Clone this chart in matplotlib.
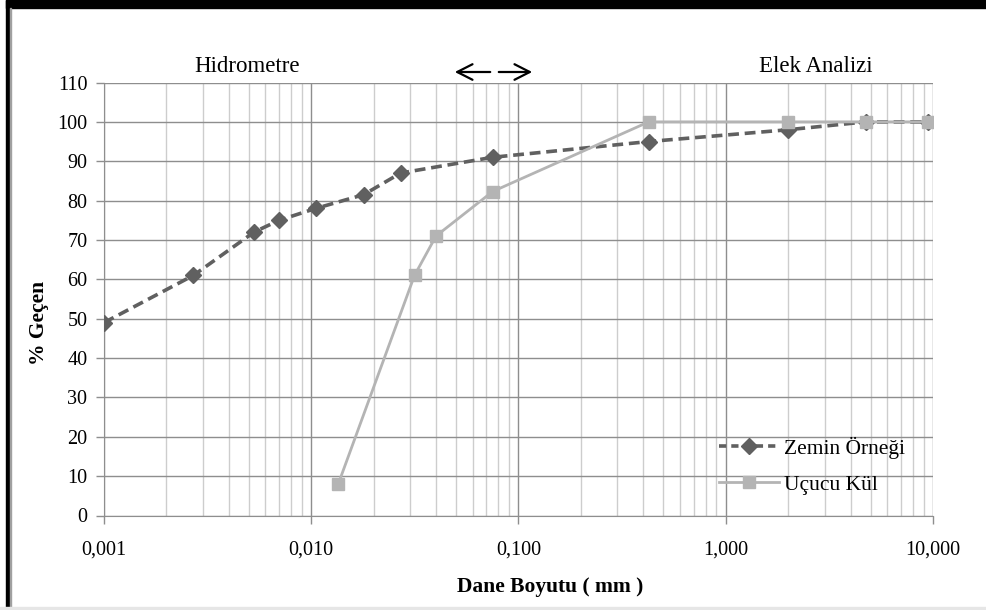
import numpy as np
import matplotlib.pyplot as plt
from matplotlib.ticker import FixedLocator, LogLocator, FuncFormatter, NullFormatter
from matplotlib.lines import Line2D
from matplotlib.patches import Rectangle

plt.rcParams['font.family'] = ['Liberation Serif', 'DejaVu Serif']

# grain size (mm) and percent passing
zemin_d = [0.001, 0.0027, 0.0053, 0.007, 0.0105, 0.0179, 0.027, 0.075, 0.425, 2.0, 4.75, 9.5]
zemin_p = [49, 61, 72, 75, 78, 81.5, 87, 91, 95, 98, 100, 100]

kul_d = [0.0135, 0.0315, 0.040, 0.075, 0.425, 2.0, 4.75, 9.5]
kul_p = [8, 61, 71, 82.3, 100, 100, 100, 100]

x_ticks = [0.001, 0.01, 0.1, 1, 10]
x_labels = ['0,001', '0,010', '0,100', '1,000', '10,000']
y_ticks = list(range(0, 111, 10))

dark = '#606060'
light = '#b4b4b4'
gridc = '#8e8e8e'

W, H = 987, 610
fig = plt.figure(figsize=(W / 100, H / 100), dpi=100)
ax = fig.add_axes([104 / W, 1 - 515.5 / H, 829 / W, 433 / H])

dash = (0, (3, 1.6))
ax.plot(zemin_d, zemin_p, color=dark, lw=2.6, ls=dash,
        marker='D', ms=8.5, mfc=dark, mec=dark, zorder=3)
ax.plot(kul_d, kul_p, color=light, lw=2.0, ls='-',
        marker='s', ms=8, mfc=light, mec=light, zorder=4)

ax.set_xscale('log')
ax.set_xlim(0.001, 10)
ax.set_ylim(0, 110)
ax.xaxis.set_major_locator(FixedLocator(x_ticks))
ax.xaxis.set_major_formatter(FuncFormatter(lambda v, p: x_labels[x_ticks.index(v)] if v in x_ticks else ''))
ax.xaxis.set_minor_locator(LogLocator(base=10, subs=np.arange(2, 10), numticks=20))
ax.xaxis.set_minor_formatter(NullFormatter())
ax.set_yticks(y_ticks)

ax.grid(True, which='major', axis='y', color=gridc, lw=1.0)
ax.grid(True, which='major', axis='x', color=gridc, lw=1.0)
ax.grid(True, which='minor', axis='x', color='#cdcdcd', lw=1.0)
ax.set_axisbelow(True)

for s in ['top', 'right']:
    ax.spines[s].set_visible(False)
for s in ['left', 'bottom']:
    ax.spines[s].set_color(gridc)
ax.tick_params(axis='both', which='major', labelsize=14.5, color=gridc, length=6, width=1.0)
ax.tick_params(axis='x', which='minor', length=0)
ax.tick_params(axis='x', which='major', pad=12)
ax.tick_params(axis='y', which='major', pad=6)

ax.set_xlabel('Dane Boyutu ( mm )', fontsize=15.5, fontweight='bold')
ax.xaxis.set_label_coords((550 - 104) / 829, (515.5 - 577) / 433)
ax.set_ylabel('% Geçen', fontsize=15.5, fontweight='bold')
ax.yaxis.set_label_coords((49 - 104) / 829, (515.5 - 323) / 433)

ax.text(0.172, 1.012, 'Hidrometre', transform=ax.transAxes, ha='center', va='bottom', fontsize=16.5)
ax.text(0.859, 1.012, 'Elek Analizi', transform=ax.transAxes, ha='center', va='bottom', fontsize=16.5)
arrow = dict(arrowstyle='->,head_length=0.55,head_width=0.28', color='black', lw=1.6, mutation_scale=20)
ay = (515.5 - 72) / 433
ax.annotate('', xy=((452 - 104) / 829, ay), xytext=((493 - 104) / 829, ay),
            xycoords='axes fraction', arrowprops=arrow, annotation_clip=False)
ax.annotate('', xy=((535 - 104) / 829, ay), xytext=((496 - 104) / 829, ay),
            xycoords='axes fraction', arrowprops=arrow, annotation_clip=False)

handles = [
    Line2D([], [], color=dark, lw=2.6, ls=(0, (2, 1.4)), marker='D', ms=8.5, mfc=dark, mec=dark),
    Line2D([], [], color=light, lw=2.0, marker='s', ms=8, mfc=light, mec=light),
]
ax.legend(handles, ['Zemin Örneği', 'Uçucu Kül'], loc='lower right',
          bbox_to_anchor=((905 - 104) / 829, (515.5 - 495) / 433),
          frameon=False, fontsize=15.5, handlelength=2.75, handletextpad=0.25,
          labelspacing=0.75, borderpad=0, borderaxespad=0)

# outer frame
fig.patches.append(Rectangle((6 / W, 0), 4 / W, 1, transform=fig.transFigure, color='black', zorder=10))
fig.patches.append(Rectangle((6 / W, 1 - 8 / H), 1, 8 / H, transform=fig.transFigure, color='black', zorder=10))
fig.patches.append(Rectangle((10 / W, 0), 1.5 / W, 1 - 8 / H, transform=fig.transFigure, color='#a0a0a0', zorder=10))
fig.patches.append(Rectangle((0, 0), 1, 3 / H, transform=fig.transFigure, color='#e6e6e6', zorder=10))

fig.savefig('out.png', dpi=100)
